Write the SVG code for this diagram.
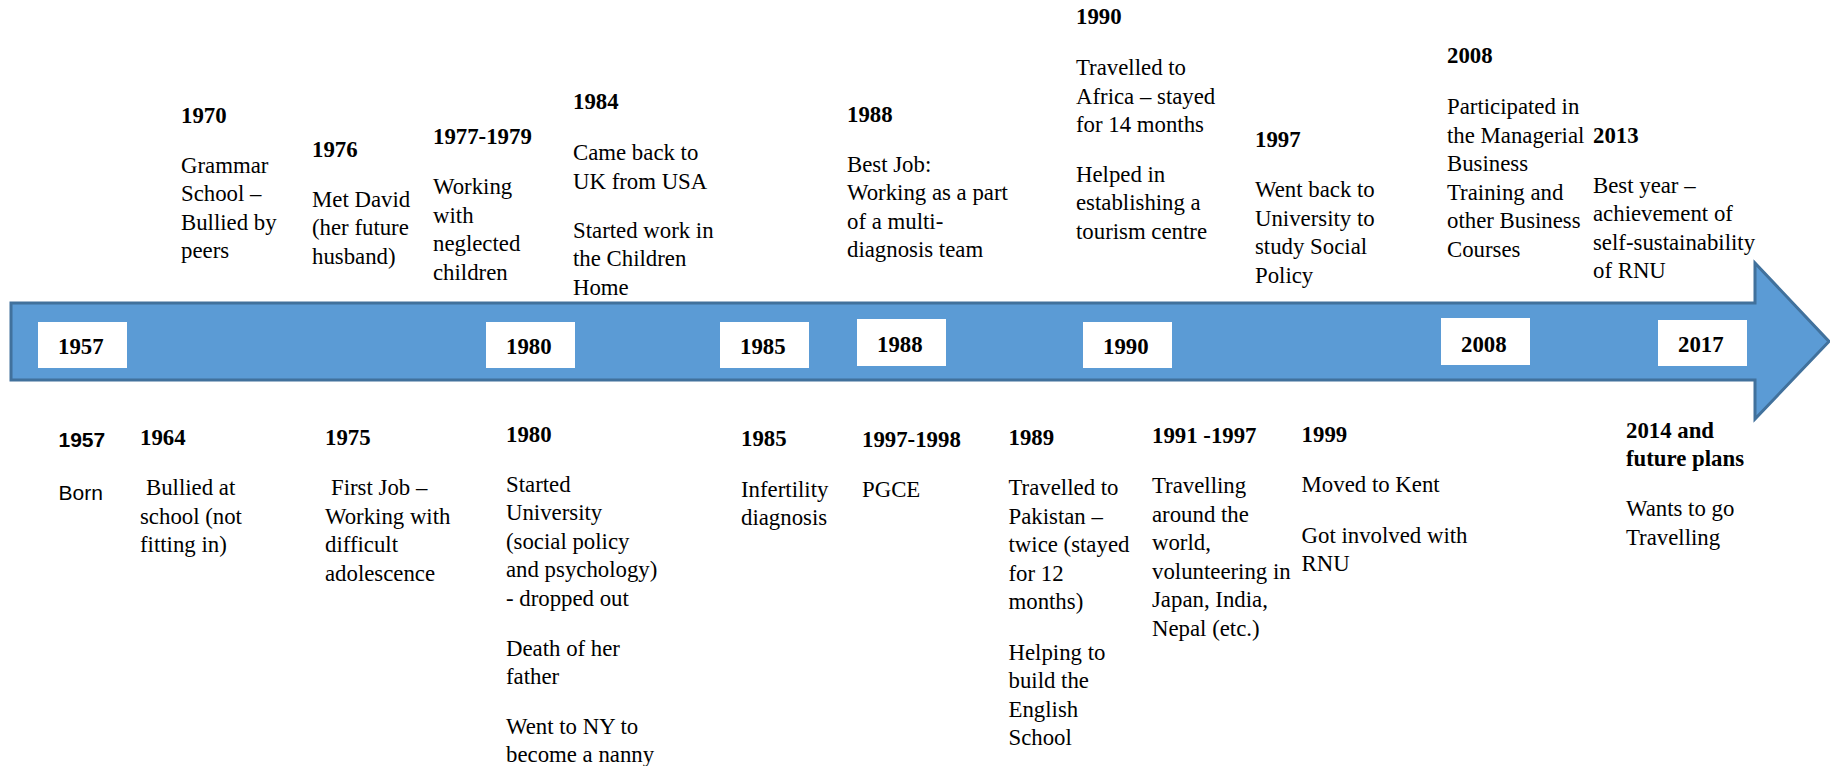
<svg xmlns="http://www.w3.org/2000/svg" width="1830" height="766" viewBox="0 0 1830 766">
  <style>
    .t { font-family: 'Liberation Serif', serif; font-size: 22.8px; fill: #000; }
    .yr { font-weight: bold; }
    .sans { font-family: 'Liberation Sans', sans-serif; font-size: 21px; }
    .box { fill: #ffffff; }
    .arrow { fill: #5B9BD5; stroke: #41719C; stroke-width: 3; stroke-linejoin: miter; }
  </style>

  <rect x="0" y="0" width="1830" height="766" fill="#ffffff"/>

  <!-- timeline arrow -->
  <g id="timeline-arrow">
    <polygon class="arrow" points="11,303 1755,303 1755,263 1829,341.5 1755,419 1755,380 11,380"/>
  </g>

  <!-- year markers on the arrow -->
  <g id="mark-1957"><rect class="box" x="38" y="322" width="89" height="46"/><text class="t yr" x="58" y="354">1957</text></g>
  <g id="mark-1980"><rect class="box" x="486" y="322" width="89" height="46"/><text class="t yr" x="506" y="354">1980</text></g>
  <g id="mark-1985"><rect class="box" x="720" y="322" width="89" height="46"/><text class="t yr" x="740" y="354">1985</text></g>
  <g id="mark-1988"><rect class="box" x="857" y="319" width="89" height="47"/><text class="t yr" x="877" y="351.5">1988</text></g>
  <g id="mark-1990"><rect class="box" x="1083" y="322" width="89" height="46"/><text class="t yr" x="1103" y="354">1990</text></g>
  <g id="mark-2008"><rect class="box" x="1441" y="318" width="89" height="47"/><text class="t yr" x="1461" y="351.5">2008</text></g>
  <g id="mark-2017"><rect class="box" x="1658" y="320" width="89" height="46"/><text class="t yr" x="1678" y="352">2017</text></g>

  <!-- events above the arrow -->
  <g id="event-1970">
    <text class="t yr" x="181" y="122.7">1970</text>
    <text class="t" x="181" y="172.7">Grammar<tspan x="181" dy="28.5">School –</tspan><tspan x="181" dy="28.5">Bullied by</tspan><tspan x="181" dy="28.5">peers</tspan></text>
  </g>
  <g id="event-1976">
    <text class="t yr" x="312" y="156.7">1976</text>
    <text class="t" x="312" y="206.7">Met David<tspan x="312" dy="28.5">(her future</tspan><tspan x="312" dy="28.5">husband)</tspan></text>
  </g>
  <g id="event-1977-1979">
    <text class="t yr" x="433" y="144">1977-1979</text>
    <text class="t" x="433" y="194">Working<tspan x="433" dy="28.5">with</tspan><tspan x="433" dy="28.5">neglected</tspan><tspan x="433" dy="28.5">children</tspan></text>
  </g>
  <g id="event-1984">
    <text class="t yr" x="573" y="109.3">1984</text>
    <text class="t" x="573" y="160">Came back to<tspan x="573" dy="28.5">UK from USA</tspan></text>
    <text class="t" x="573" y="237.8">Started work in<tspan x="573" dy="28.5">the Children</tspan><tspan x="573" dy="28.5">Home</tspan></text>
  </g>
  <g id="event-1988">
    <text class="t yr" x="847" y="121.7">1988</text>
    <text class="t" x="847" y="171.7">Best Job:<tspan x="847" dy="28.5">Working as a part</tspan><tspan x="847" dy="28.5">of a multi-</tspan><tspan x="847" dy="28.5">diagnosis team</tspan></text>
  </g>
  <g id="event-1990">
    <text class="t yr" x="1076" y="24">1990</text>
    <text class="t" x="1076" y="75">Travelled to<tspan x="1076" dy="28.5">Africa – stayed</tspan><tspan x="1076" dy="28.5">for 14 months</tspan></text>
    <text class="t" x="1076" y="181.7">Helped in<tspan x="1076" dy="28.5">establishing a</tspan><tspan x="1076" dy="28.5">tourism centre</tspan></text>
  </g>
  <g id="event-1997">
    <text class="t yr" x="1255" y="146.7">1997</text>
    <text class="t" x="1255" y="197.3">Went back to<tspan x="1255" dy="28.5">University to</tspan><tspan x="1255" dy="28.5">study Social</tspan><tspan x="1255" dy="28.5">Policy</tspan></text>
  </g>
  <g id="event-2008">
    <text class="t yr" x="1447" y="63.3">2008</text>
    <text class="t" x="1447" y="114">Participated in<tspan x="1447" dy="28.5">the Managerial</tspan><tspan x="1447" dy="28.5">Business</tspan><tspan x="1447" dy="28.5">Training and</tspan><tspan x="1447" dy="28.5">other Business</tspan><tspan x="1447" dy="28.5">Courses</tspan></text>
  </g>
  <g id="event-2013">
    <text class="t yr" x="1593" y="142.7">2013</text>
    <text class="t" x="1593" y="192.7">Best year –<tspan x="1593" dy="28.5">achievement of</tspan><tspan x="1593" dy="28.5">self-sustainability</tspan><tspan x="1593" dy="28.5">of RNU</tspan></text>
  </g>

  <!-- events below the arrow -->
  <g id="event-1957">
    <text class="t yr sans" x="58.5" y="447">1957</text>
    <text class="t sans" x="58.5" y="500">Born</text>
  </g>
  <g id="event-1964">
    <text class="t yr" x="140" y="445">1964</text>
    <text class="t" x="146" y="495">Bullied at<tspan x="140" dy="28.5">school (not</tspan><tspan x="140" dy="28.5">fitting in)</tspan></text>
  </g>
  <g id="event-1975">
    <text class="t yr" x="325" y="445">1975</text>
    <text class="t" x="331" y="495">First Job –<tspan x="325" dy="28.5">Working with</tspan><tspan x="325" dy="28.5">difficult</tspan><tspan x="325" dy="28.5">adolescence</tspan></text>
  </g>
  <g id="event-1980">
    <text class="t yr" x="506" y="441.7">1980</text>
    <text class="t" x="506" y="491.7">Started<tspan x="506" dy="28.5">University</tspan><tspan x="506" dy="28.5">(social policy</tspan><tspan x="506" dy="28.5">and psychology)</tspan><tspan x="506" dy="28.5">- dropped out</tspan></text>
    <text class="t" x="506" y="655.7">Death of her<tspan x="506" dy="28.5">father</tspan></text>
    <text class="t" x="506" y="733.5">Went to NY to<tspan x="506" dy="28.5">become a nanny</tspan></text>
  </g>
  <g id="event-1985">
    <text class="t yr" x="741" y="445.7">1985</text>
    <text class="t" x="741" y="496.7">Infertility<tspan x="741" dy="28.5">diagnosis</tspan></text>
  </g>
  <g id="event-1997-1998">
    <text class="t yr" x="862" y="447.3">1997-1998</text>
    <text class="t" x="862" y="497.3">PGCE</text>
  </g>
  <g id="event-1989">
    <text class="t yr" x="1008.5" y="445">1989</text>
    <text class="t" x="1008.5" y="495">Travelled to<tspan x="1008.5" dy="28.5">Pakistan –</tspan><tspan x="1008.5" dy="28.5">twice (stayed</tspan><tspan x="1008.5" dy="28.5">for 12</tspan><tspan x="1008.5" dy="28.5">months)</tspan></text>
    <text class="t" x="1008.5" y="659.5">Helping to<tspan x="1008.5" dy="28.5">build the</tspan><tspan x="1008.5" dy="28.5">English</tspan><tspan x="1008.5" dy="28.5">School</tspan></text>
  </g>
  <g id="event-1991-1997">
    <text class="t yr" x="1152" y="443.3">1991 -1997</text>
    <text class="t" x="1152" y="493.3">Travelling<tspan x="1152" dy="28.5">around the</tspan><tspan x="1152" dy="28.5">world,</tspan><tspan x="1152" dy="28.5">volunteering in</tspan><tspan x="1152" dy="28.5">Japan, India,</tspan><tspan x="1152" dy="28.5">Nepal (etc.)</tspan></text>
  </g>
  <g id="event-1999">
    <text class="t yr" x="1301.6" y="441.7">1999</text>
    <text class="t" x="1301.6" y="491.7">Moved to Kent</text>
    <text class="t" x="1301.6" y="542.7">Got involved with<tspan x="1301.6" dy="28.5">RNU</tspan></text>
  </g>
  <g id="event-2014">
    <text class="t yr" x="1626" y="437.5">2014 and<tspan x="1626" dy="28.5">future plans</tspan></text>
    <text class="t" x="1626" y="516">Wants to go<tspan x="1626" dy="28.5">Travelling</tspan></text>
  </g>
</svg>
